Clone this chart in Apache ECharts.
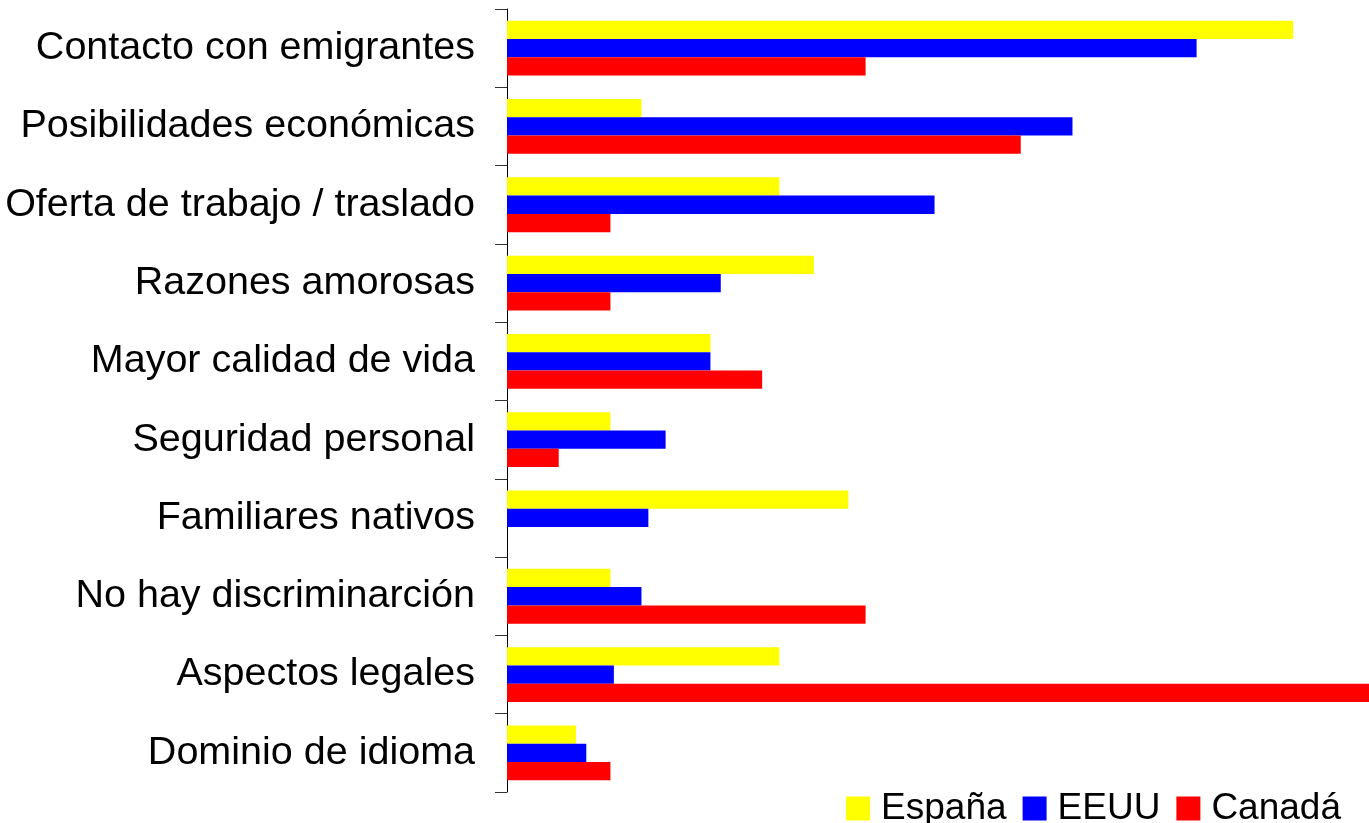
<!DOCTYPE html>
<html>
<head>
<meta charset="utf-8">
<script src="https://cdn.jsdelivr.net/npm/echarts@6/dist/echarts.min.js"></script>
<style>
  html, body { margin: 0; padding: 0; background: #fff; }
  #chart { width: 1369px; height: 823px; }
</style>
</head>
<body>
<div id="chart"></div>
<script>
// motivos, de arriba hacia abajo
const categories = [
  'Contacto con emigrantes',
  'Posibilidades económicas',
  'Oferta de trabajo / traslado',
  'Razones amorosas',
  'Mayor calidad de vida',
  'Seguridad personal',
  'Familiares nativos',
  'No hay discriminarción',
  'Aspectos legales',
  'Dominio de idioma',
]

const espana = [22.8, 3.9, 7.9, 8.9, 5.9, 3.0, 9.9, 3.0, 7.9, 2.0]
const eeuu = [20.0, 16.4, 12.4, 6.2, 5.9, 4.6, 4.1, 3.9, 3.1, 2.3]
const canada = [10.4, 14.9, 3.0, 3.0, 7.4, 1.5, 0, 10.4, 25.0, 3.0]

const font = 'Liberation Sans, Arial, sans-serif'

const chart = echarts.init(document.getElementById('chart'))

// barra comun para las tres series
function bar(name, data, color) {
  return {
    name,
    type: 'bar',
    data,
    barGap: '0%',
    barCategoryGap: '30%',
    itemStyle: { color },
    emphasis: { disabled: true },
  }
}

chart.setOption({
  animation: false,
  backgroundColor: '#fff',
  grid: {
    left: 507,
    right: 0,
    top: 9,
    bottom: 31,
  },
  xAxis: {
    type: 'value',
    min: 0,
    max: 25,
    show: false,
  },
  yAxis: {
    type: 'category',
    data: categories,
    inverse: true,
    axisLine: { show: true, lineStyle: { color: '#000', width: 1 } },
    axisTick: { show: true, length: 12, lineStyle: { color: '#333', width: 1 } },
    axisLabel: {
      margin: 32,
      color: '#000',
      fontSize: 39.5,
      fontFamily: font,
    },
  },
  legend: {
    right: 23,
    top: 785,
    itemWidth: 24,
    itemHeight: 24,
    itemGap: 16,
    icon: 'rect',
    textStyle: {
      color: '#000',
      fontSize: 37,
      fontFamily: font,
      padding: [0, 0, 12, 6],
    },
    data: ['España', 'EEUU', 'Canadá'],
  },
  series: [
    bar('España', espana, '#ffff00'),
    bar('EEUU', eeuu, '#0000ff'),
    bar('Canadá', canada, '#ff0000'),
  ],
})
</script>
</body>
</html>
